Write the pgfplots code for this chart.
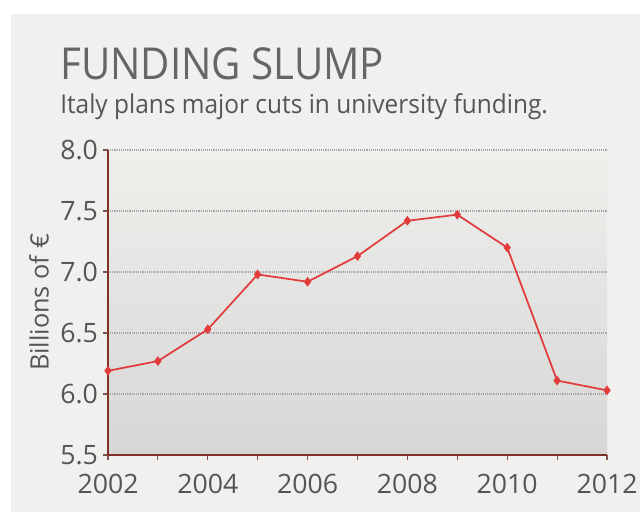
\documentclass[border=0pt]{standalone}
\usepackage{pgfplots}
\pgfplotsset{compat=1.18}
\usepackage{fontspec}
\setmainfont{Open Sans}
\definecolor{panel}{HTML}{F0F0EE}
\definecolor{topc}{HTML}{EFEFEC}
\definecolor{botc}{HTML}{D6D6D6}
\definecolor{axc}{HTML}{7E3326}
\definecolor{linec}{HTML}{E23B3B}
\definecolor{txt}{HTML}{555555}
\begin{document}
\begin{tikzpicture}
\path[use as bounding box, fill=white] (0,0) rectangle (480pt,384pt);
\fill[panel] (8.25pt,0) rectangle (480pt,373.5pt);
\node[anchor=base west, inner sep=0, text=txt!90, font=\fontsize{33}{36}\selectfont] at (45pt,324.5pt) {\scalebox{0.915}[1]{FUNDING SLUMP}};
\node[anchor=base west, inner sep=0, text=txt, font=\fontsize{19.5}{22}\selectfont] at (45pt,299pt) {\scalebox{0.94}[1]{Italy plans major cuts in university funding.}};
\begin{axis}[
  at={(81pt,42.75pt)}, anchor=south west,
  scale only axis, width=374.25pt, height=228.75pt,
  xmin=2002, xmax=2012, ymin=5.5, ymax=8.0,
  axis x line*=bottom, axis y line*=left,
  axis line style={-, axc, line width=1.5pt},
  xtick={2002,2004,...,2012},
  minor xtick={2003,2005,...,2011},
  ytick={5.5,6.0,6.5,7.0,7.5,8.0},
  tick align=outside,
  major tick length=4pt, minor tick length=4pt,
  tick style={axc!60!gray, line width=0.8pt},
  xticklabel style={/pgf/number format/set thousands separator={}, text=txt, yshift=-7pt},
  yticklabel style={/pgf/number format/.cd, fixed, fixed zerofill, precision=1, /tikz/.cd, text=txt},
  /pgf/number format/assume math mode=true,
  ticklabel style={font=\fontsize{20}{22}\selectfont},
  ylabel={Billions of €},
  every axis y label/.style={at={(axis description cs:-0.138,0.5)}, rotate=90, anchor=center, font=\fontsize{19}{22}\selectfont, text=txt},
  ymajorgrids,
  major grid style={densely dotted, gray!70, line width=0.8pt},
  axis background/.style={top color=topc, bottom color=botc},
  clip=false,
]
\addplot[linec, line width=1.3pt, mark=diamond*, mark size=2.6pt, mark options={fill=linec, draw=linec}]
coordinates {
(2002,6.19) (2003,6.27) (2004,6.53) (2005,6.98) (2006,6.92) (2007,7.13)
(2008,7.42) (2009,7.47) (2010,7.20) (2011,6.11) (2012,6.03)
};
\end{axis}
\end{tikzpicture}
\end{document}
